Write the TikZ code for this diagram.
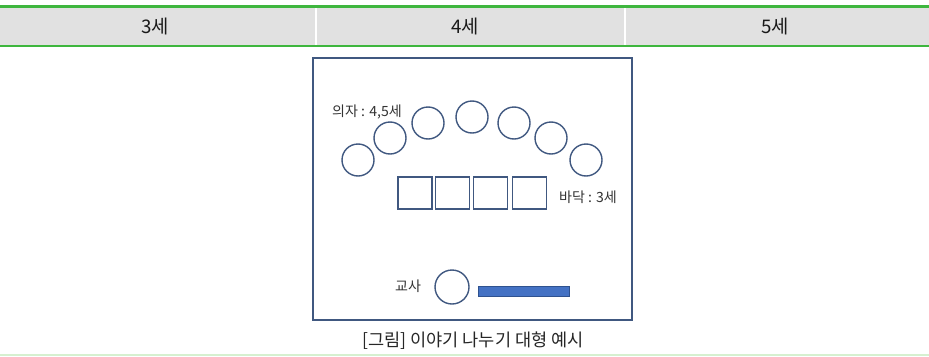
\documentclass[tikz,border=0pt]{standalone}
\usepackage{fontspec}
\newfontfamily\krfont{Noto Sans CJK KR}
\usetikzlibrary{calc}

\definecolor{hdrgreen}{RGB}{62,182,62}
\definecolor{hdrgray}{RGB}{225,225,225}
\definecolor{lightgreen}{RGB}{214,240,208}
\definecolor{planblue}{RGB}{64,88,128}
\definecolor{deskblue}{RGB}{68,114,196}
\definecolor{deskline}{RGB}{47,82,143}

\begin{document}
\begin{tikzpicture}[x=0.03cm,y=-0.03cm,
    hdr/.style={font=\krfont\fontsize{16}{18}\selectfont,text=black!90},
    lbl/.style={font=\krfont\fontsize{12}{14}\selectfont,text=black!80},
    seat/.style={circle,draw=planblue,line width=1.2pt,minimum size=0.96cm,inner sep=0pt},
    mat/.style={rectangle,draw=planblue,line width=1.2pt,minimum width=1.03cm,minimum height=0.96cm,inner sep=0pt}]
        \useasboundingbox (0,0) rectangle (929,356);
        % header row
        \fill[hdrgray] (0,7) rectangle (929,46);
        \draw[white,line width=1pt] (316,7) -- (316,46);
        \draw[white,line width=1pt] (625,7) -- (625,46);
        \draw[hdrgreen,line width=1.8pt] (0,6.5) -- (929,6.5);
        \draw[hdrgreen,line width=1.8pt] (0,46) -- (929,46);
        \node[hdr] (age3) at (155,26.5) {3세};
        \node[hdr] (age4) at (465,26.5) {4세};
        \node[hdr] (age5) at (775,26.5) {5세};
        % room
        \draw[planblue,line width=1.5pt] (313,58) rectangle (632,320);
        \node[seat] (s1) at (358,160) {};
        \node[seat] (s2) at (390,138) {};
        \node[seat] (s3) at (428,123) {};
        \node[seat] (s4) at (472,117) {};
        \node[seat] (s5) at (514,123) {};
        \node[seat] (s6) at (551,138) {};
        \node[seat] (s7) at (586,160) {};
        \node[lbl] (chair) at (367,112) {의자 : 4,5세};
        \node[mat] (m1) at (415,193) {};
        \node[mat] (m2) at (452.5,193) {};
        \node[mat] (m3) at (490.5,193) {};
        \node[mat] (m4) at (529.5,193) {};
        \node[lbl] (floor) at (588,197) {바닥 : 3세};
        \node[seat,minimum size=1.02cm] (teacher) at (452,287) {};
        \node[lbl] (tlbl) at (408,286) {교사};
        \draw[fill=deskblue,draw=deskline,line width=0.6pt] (478,286) rectangle (569,296);
        % caption
        \node[font=\krfont\fontsize{15}{17}\selectfont,text=black!85] (cap) at (473,341) {[그림] 이야기 나누기 대형 예시};
        \draw[lightgreen,line width=1.2pt] (0,355) -- (929,355);
      \end{tikzpicture}
\end{document}
